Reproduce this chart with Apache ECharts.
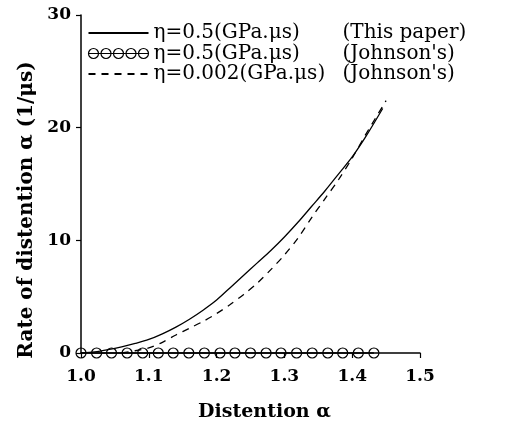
<!DOCTYPE html>
<html>
<head>
<meta charset="utf-8">
<script src="https://cdn.jsdelivr.net/npm/echarts@6/dist/echarts.min.js"></script>
<style>
  html, body { margin: 0; padding: 0; background: #fff; }
  #chart { width: 525px; height: 423px; }
</style>
</head>
<body>
<div id="chart"></div>
<script>
// eta = 0.5 (this paper), solid
const alphaThis = [1.00, 1.02, 1.04, 1.06, 1.08, 1.10, 1.12, 1.14, 1.16, 1.18, 1.20, 1.22, 1.24, 1.26, 1.28, 1.30, 1.32, 1.34, 1.36, 1.38, 1.40, 1.42, 1.445];
const rateThis = [0, 0.1, 0.3, 0.55, 0.85, 1.2, 1.7, 2.3, 3.0, 3.8, 4.7, 5.8, 6.9, 8.0, 9.1, 10.3, 11.6, 13.0, 14.4, 15.9, 17.4, 19.2, 21.7];

// eta = 0.5 (Johnson's), circles on the floor
const alphaJohnson = [1.000, 1.023, 1.045, 1.068, 1.091, 1.114, 1.136, 1.159, 1.182, 1.205, 1.227, 1.250, 1.273, 1.295, 1.318, 1.341, 1.364, 1.386, 1.409, 1.432];
const rateJohnson = [0, 0, 0, 0, 0, 0, 0, 0, 0, 0, 0, 0, 0, 0, 0, 0, 0, 0, 0, 0];

// eta = 0.002 (Johnson's), dashed
const alphaLow = [1.06, 1.08, 1.10, 1.12, 1.14, 1.16, 1.18, 1.20, 1.22, 1.24, 1.26, 1.28, 1.30, 1.32, 1.34, 1.36, 1.38, 1.40, 1.42, 1.45];
const rateLow = [0, 0.2, 0.45, 0.95, 1.6, 2.2, 2.8, 3.5, 4.3, 5.2, 6.2, 7.4, 8.7, 10.2, 12.0, 13.7, 15.4, 17.3, 19.4, 22.4];

const seriesNames = ['this', 'johnson', 'low'];
const legendEta = ['η=0.5(GPa.μs)', 'η=0.5(GPa.μs)', 'η=0.002(GPa.μs)'];
const legendSrc = ['(This paper)', '(Johnson\'s)', '(Johnson\'s)'];

const xTicks = [1.0, 1.1, 1.2, 1.3, 1.4, 1.5];
const yTicks = [0, 10, 20, 30];

function pairs(xs, ys) {
  return xs.map((x, i) => [x, ys[i]]);
}

const serif = 'DejaVu Serif';
const circlesIcon = 'path://M0,5L60,5' +
  'M10,5A5,5,0,1,1,0,5A5,5,0,1,1,10,5' +
  'M22.5,5A5,5,0,1,1,12.5,5A5,5,0,1,1,22.5,5' +
  'M35,5A5,5,0,1,1,25,5A5,5,0,1,1,35,5' +
  'M47.5,5A5,5,0,1,1,37.5,5A5,5,0,1,1,47.5,5' +
  'M60,5A5,5,0,1,1,50,5A5,5,0,1,1,60,5';

const chart = echarts.init(document.getElementById('chart'));

chart.setOption({
  animation: false,
  backgroundColor: '#fff',
  grid: { left: 81, right: 105, top: 15, bottom: 70, containLabel: false, outerBoundsMode: 'none' },
  legend: {
    orient: 'vertical',
    left: 81,
    top: 18,
    itemWidth: 60,
    itemHeight: 10,
    itemGap: 0.5,
    data: [
      { name: 'this', itemStyle: { opacity: 0 } },
      { name: 'johnson', icon: circlesIcon, itemStyle: { color: 'none', borderColor: '#000', borderWidth: 1.2 } },
      { name: 'low', itemStyle: { opacity: 0 } },
    ],
    formatter: name => {
      const i = seriesNames.indexOf(name);
      return '{a|' + legendEta[i] + '}{b|' + legendSrc[i] + '}';
    },
    textStyle: {
      rich: {
        a: { fontFamily: serif, fontSize: 20, color: '#000', width: 189, lineHeight: 18 },
        b: { fontFamily: serif, fontSize: 20, color: '#000', lineHeight: 18 },
      },
    },
  },
  xAxis: {
    type: 'value',
    min: 1.0,
    max: 1.5,
    interval: 0.1,
    name: 'Distention α',
    nameLocation: 'middle',
    nameGap: 50,
    nameTextStyle: { fontFamily: serif, fontWeight: 'bold', fontSize: 19, color: '#000', padding: [0, 0, 0, 28] },
    axisLine: { lineStyle: { color: '#000', width: 1.5 } },
    axisTick: { length: 5, inside: false, lineStyle: { color: '#000', width: 1.2 } },
    axisLabel: {
      fontFamily: serif, fontWeight: 'bold', fontSize: 17, color: '#000', margin: 15,
      formatter: v => xTicks.find(t => Math.abs(t - v) < 1e-6).toFixed(1),
    },
    splitLine: { show: false },
  },
  yAxis: {
    type: 'value',
    min: 0,
    max: 30,
    interval: 10,
    name: 'Rate of distention α (1/μs)',
    nameLocation: 'middle',
    nameGap: 42,
    nameTextStyle: { fontFamily: serif, fontWeight: 'bold', fontSize: 20, color: '#000', padding: [0, 52, 0, 0] },
    axisLine: { show: true, lineStyle: { color: '#000', width: 1.5 } },
    axisTick: { show: true, length: 5, lineStyle: { color: '#000', width: 1.2 } },
    axisLabel: {
      fontFamily: serif, fontWeight: 'bold', fontSize: 17, color: '#000', margin: 10,
      formatter: v => String(yTicks.find(t => Math.abs(t - v) < 1e-6)),
    },
    splitLine: { show: false },
  },
  series: [
    {
      name: 'this',
      type: 'line',
      data: pairs(alphaThis, rateThis),
      smooth: 0.3,
      symbol: 'none',
      lineStyle: { color: '#000', width: 1.3, type: 'solid' },
      itemStyle: { color: '#000' },
      z: 3,
    },
    {
      name: 'johnson',
      type: 'line',
      data: pairs(alphaJohnson, rateJohnson),
      symbol: 'circle',
      symbolSize: 10,
      showAllSymbol: true,
      clip: false,
      lineStyle: { color: '#000', width: 1.3 },
      itemStyle: { color: 'none', borderColor: '#000', borderWidth: 1.2 },
      z: 4,
    },
    {
      name: 'low',
      type: 'line',
      data: pairs(alphaLow, rateLow),
      smooth: 0.3,
      symbol: 'none',
      lineStyle: { color: '#000', width: 1.3, type: [7, 6] },
      itemStyle: { color: '#000' },
      z: 3,
    },
  ],
});
</script>
</body>
</html>
